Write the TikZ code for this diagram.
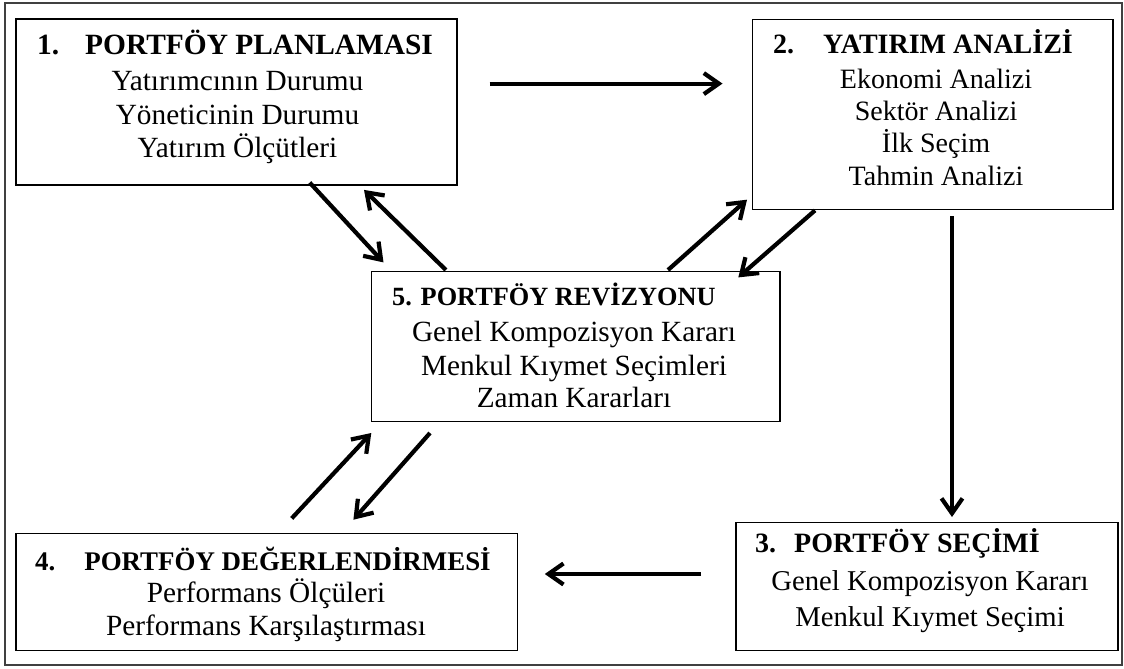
\documentclass[tikz,border=0pt]{standalone}
\usepackage{fontspec}
\setmainfont{Liberation Serif}
\usetikzlibrary{arrows.meta}
\begin{document}
\begin{tikzpicture}[x=1pt,y=-1pt,
  box/.style={draw=black, line width=1.4pt, fill=white, inner sep=0pt},
  heading/.style={anchor=base west, inner sep=0pt, font=\fontsize{#1}{32}\selectfont\bfseries},
  heading/.default=28,
  item/.style={anchor=base, inner sep=0pt, font=\fontsize{#1}{32}\selectfont},
  item/.default=29.3,
  flow/.style={line width=4.2pt, -{Straight Barb[length=15pt,width=21pt]}}]

\useasboundingbox (0,0) rectangle (1124,669);
\fill[white] (0,0) rectangle (1124,669);

% outer frame
\draw[line width=2pt, black!75] (5,3) rectangle (1122,665);

% stage boxes
\node[box, minimum width=441pt, minimum height=165.6pt] (p1) at (236.4,102) {};
\node[box, minimum width=360.4pt, minimum height=190.3pt] (p2) at (932.8,114.4) {};
\node[box, minimum width=382pt, minimum height=128pt] (p3) at (927,586.6) {};
\node[box, minimum width=501.7pt, minimum height=117pt] (p4) at (266.7,592) {};
\node[box, minimum width=408.7pt, minimum height=150.2pt] (p5) at (575.7,346.5) {};

% 1. planning
\node[heading=29.4] (p1t) at (37,55) {1.\hspace{26pt}PORTFÖY PLANLAMASI};
\node[item] (p1a) at (237.5,90.5) {Yatırımcının Durumu};
\node[item] (p1b) at (237.5,124) {Yöneticinin Durumu};
\node[item] (p1c) at (237.5,157) {Yatırım Ölçütleri};

% 2. analysis
\node[heading] (p2t) at (773,54) {2.\hspace{29pt}YATIRIM ANALİZİ};
\node[item=28] (p2a) at (936,88.3) {Ekonomi Analizi};
\node[item=28] (p2b) at (936,120.6) {Sektör Analizi};
\node[item=28] (p2c) at (936,152.9) {İlk Seçim};
\node[item=28] (p2d) at (936,185.2) {Tahmin Analizi};

% 3. selection
\node[heading] (p3t) at (755,552) {3.\hspace{18pt}PORTFÖY SEÇİMİ};
\node[item=28.7] (p3a) at (930,590) {Genel Kompozisyon Kararı};
\node[item=28.7] (p3b) at (930,626) {Menkul Kıymet Seçimi};

% 4. evaluation
\node[heading=26.9] (p4t) at (35,570) {4.\hspace{29pt}PORTFÖY DEĞERLENDİRMESİ};
\node[item] (p4a) at (266,602) {Performans Ölçüleri};
\node[item] (p4b) at (266,635) {Performans Karşılaştırması};

% 5. revision
\node[heading=26.3] (p5t) at (392,305) {5. PORTFÖY REVİZYONU};
\node[item] (p5a) at (574,341.7) {Genel Kompozisyon Kararı};
\node[item] (p5b) at (574,375) {Menkul Kıymet Seçimleri};
\node[item] (p5c) at (574,407) {Zaman Kararları};

% arrow end points
\coordinate (a12s) at (489.6,83.6);  \coordinate (a12e) at (722.5,83.6);
\coordinate (a15s) at (309.7,182.6); \coordinate (a15e) at (383.5,262.4);
\coordinate (a51s) at (445.9,270);   \coordinate (a51e) at (364,189.9);
\coordinate (a52s) at (668,270);     \coordinate (a52e) at (747,199.7);
\coordinate (a25s) at (815,210.4);   \coordinate (a25e) at (738.3,277.4);
\coordinate (a23s) at (952,216.3);   \coordinate (a23e) at (952,517);
\coordinate (a34s) at (701,574);     \coordinate (a34e) at (544.8,574);
\coordinate (a45s) at (291.7,518.4); \coordinate (a45e) at (371.3,433);
\coordinate (a54s) at (430,433);     \coordinate (a54e) at (353.4,519.7);

\draw[flow] (a12s) -- (a12e);
\draw[flow] (a15s) -- (a15e);
\draw[flow] (a51s) -- (a51e);
\draw[flow] (a52s) -- (a52e);
\draw[flow] (a25s) -- (a25e);
\draw[flow] (a23s) -- (a23e);
\draw[flow] (a34s) -- (a34e);
\draw[flow] (a45s) -- (a45e);
\draw[flow] (a54s) -- (a54e);
\end{tikzpicture}
\end{document}
